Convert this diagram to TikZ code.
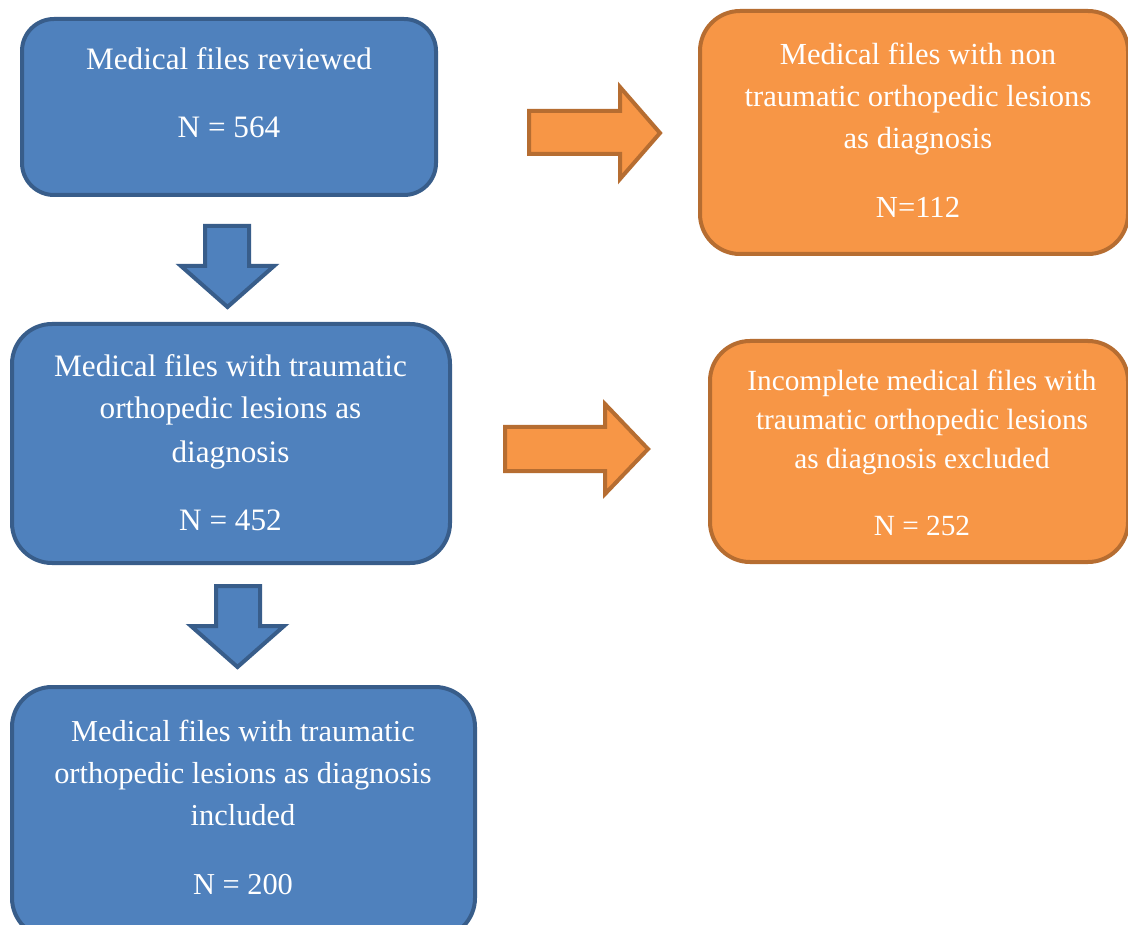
\documentclass[tikz,border=0pt]{standalone}
\usepackage{fontspec}
\setmainfont{Liberation Serif}
\definecolor{bfill}{HTML}{4F81BD}
\definecolor{bdraw}{HTML}{385D8A}
\definecolor{ofill}{HTML}{F79646}
\definecolor{odraw}{HTML}{B66D31}
\tikzset{
  box/.style={rounded corners=40pt, line width=4pt, inner sep=0pt, outer sep=0pt},
  bluebox/.style={box, fill=bfill, draw=bdraw},
  orangebox/.style={box, fill=ofill, draw=odraw},
  txt/.style={text=white, anchor=base, inner sep=0pt, font=\fontsize{31.2}{38}\selectfont},
  ctxt/.style={txt, font=\fontsize{30.4}{38}\selectfont},
  otxt/.style={txt, font=\fontsize{30.6}{38}\selectfont},
  stxt/.style={txt, font=\fontsize{29.3}{36}\selectfont},
  barrow/.style={line width=4pt, fill=bfill, draw=bdraw, line join=miter},
  oarrow/.style={line width=4pt, fill=ofill, draw=odraw, line join=miter}
}
\begin{document}
\begin{tikzpicture}[x=1pt,y=-1pt]
\useasboundingbox (0,0) rectangle (1128,925);
\clip (0,0) rectangle (1128,925);
\fill[white] (0,0) rectangle (1128,925);

% boxes
\node[bluebox, rounded corners=32pt, minimum width=414pt, minimum height=176pt] (b1) at (229,107) {};
\node[bluebox, minimum width=438pt, minimum height=239pt] (b2) at (231,443.5) {};
\node[bluebox, minimum width=463pt, minimum height=251pt] (b3) at (243.5,812.5) {};
\node[orangebox, minimum width=428pt, minimum height=243pt] (oa) at (914,132.5) {};
\node[orangebox, minimum width=418pt, minimum height=221pt] (ob) at (919,451.5) {};

% texts
\node[txt] (t1a) at (229,70) {Medical files reviewed};
\node[txt] (t1b) at (229,138) {N = 564};

\node[txt] (t2a) at (230.5,377) {Medical files with traumatic};
\node[txt] (t2b) at (230.5,419) {orthopedic lesions as};
\node[txt] (t2c) at (230.5,462) {diagnosis};
\node[txt] (t2d) at (230.5,530) {N = 452};

\node[ctxt] (t3a) at (243,741) {Medical files with traumatic};
\node[ctxt] (t3b) at (243,783) {orthopedic lesions as diagnosis};
\node[ctxt] (t3c) at (243,825) {included};
\node[ctxt] (t3d) at (243,894) {N = 200};

\node[otxt] (tAa) at (918,65) {Medical files with non};
\node[otxt] (tAb) at (918,107) {traumatic orthopedic lesions};
\node[otxt] (tAc) at (918,149) {as diagnosis};
\node[otxt] (tAd) at (918,218) {N=112};

\node[stxt] (tBa) at (922,391) {Incomplete medical files with};
\node[stxt] (tBb) at (922,429) {traumatic orthopedic lesions};
\node[stxt] (tBc) at (922,468) {as diagnosis excluded};
\node[stxt] (tBd) at (922,535) {N = 252};

% block arrows
\draw[barrow] (205,226) -- (249,226) -- (249,266) -- (274,266) -- (227.5,307) -- (181,266) -- (205,266) -- cycle;
\draw[barrow] (216,586) -- (260,586) -- (260,626) -- (284,626) -- (237.5,667) -- (191,626) -- (216,626) -- cycle;
\draw[oarrow] (529,111) -- (620,111) -- (620,87) -- (660,133) -- (620,179) -- (620,154) -- (529,154) -- cycle;
\draw[oarrow] (505,427) -- (605,427) -- (605,404) -- (648,449) -- (605,494) -- (605,471) -- (505,471) -- cycle;
\end{tikzpicture}
\end{document}
